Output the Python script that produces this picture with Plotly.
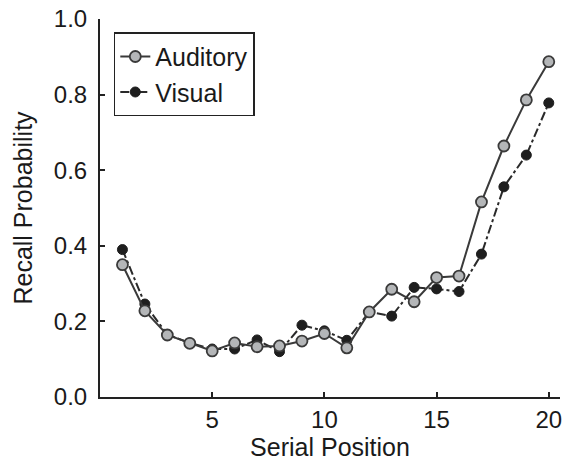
import plotly.graph_objects as go

positions = list(range(1, 21))
auditory = [0.35, 0.228, 0.164, 0.142, 0.122, 0.143, 0.133, 0.135, 0.148, 0.168,
            0.130, 0.225, 0.285, 0.252, 0.316, 0.320, 0.516, 0.664, 0.786, 0.887]
visual = [0.39, 0.246, 0.165, 0.143, 0.127, 0.127, 0.151, 0.120, 0.190, 0.175,
          0.150, 0.225, 0.214, 0.290, 0.286, 0.279, 0.378, 0.556, 0.640, 0.778]

x_ticks = [5, 10, 15, 20]
y_ticks = [0.0, 0.2, 0.4, 0.6, 0.8, 1.0]
y_tick_labels = ["0.0", "0.2", "0.4", "0.6", "0.8", "1.0"]

fig = go.Figure()
fig.add_trace(go.Scatter(
    x=positions, y=visual, name="Visual", mode="lines+markers",
    line=dict(color="#2a2a2a", width=2, dash="dashdot"),
    marker=dict(size=10, color="#1e1e1e", line=dict(color="#1e1e1e", width=1)),
))
fig.add_trace(go.Scatter(
    x=positions, y=auditory, name="Auditory", mode="lines+markers",
    line=dict(color="#3a3a3a", width=2),
    marker=dict(size=11, color="#b4b6b8", line=dict(color="#3a3a3a", width=1.8)),
))

fam = "Liberation Sans, Arial, sans-serif"
tick_font = dict(family=fam, size=24, color="#1a1a1a")
title_font = dict(family=fam, size=25, color="#1a1a1a")

fig.update_layout(
    width=562, height=461,
    margin=dict(l=100, r=0, t=19, b=64),
    paper_bgcolor="white", plot_bgcolor="white",
    font=tick_font,
    showlegend=True,
    legend=dict(
        x=0.03, y=0.965, xanchor="left", yanchor="top",
        bordercolor="#222", borderwidth=1.5, bgcolor="white",
        font=dict(family=fam, size=25, color="#1a1a1a"),
        traceorder="reversed", itemwidth=30, tracegroupgap=0,
    ),
    xaxis=dict(
        range=[0, 20.5], tickvals=x_ticks, ticks="inside", ticklen=5, tickwidth=1.5,
        tickcolor="#222", showline=True, linecolor="#222", linewidth=2,
        showgrid=False, zeroline=False, tickfont=tick_font,
        ticklabeloverflow="allow", ticklabelstandoff=0,
        title=dict(text="Serial Position", font=title_font, standoff=6),
    ),
    yaxis=dict(
        range=[0, 1.0], tickvals=y_ticks, ticktext=y_tick_labels, ticks="inside",
        ticklen=5, tickwidth=1.5, tickcolor="#222", showline=True, linecolor="#222",
        linewidth=2, showgrid=False, zeroline=False, tickfont=tick_font,
        ticklabelstandoff=6,
        title=dict(text="Recall Probability", font=title_font, standoff=14),
    ),
)

fig.write_html("out.html")
